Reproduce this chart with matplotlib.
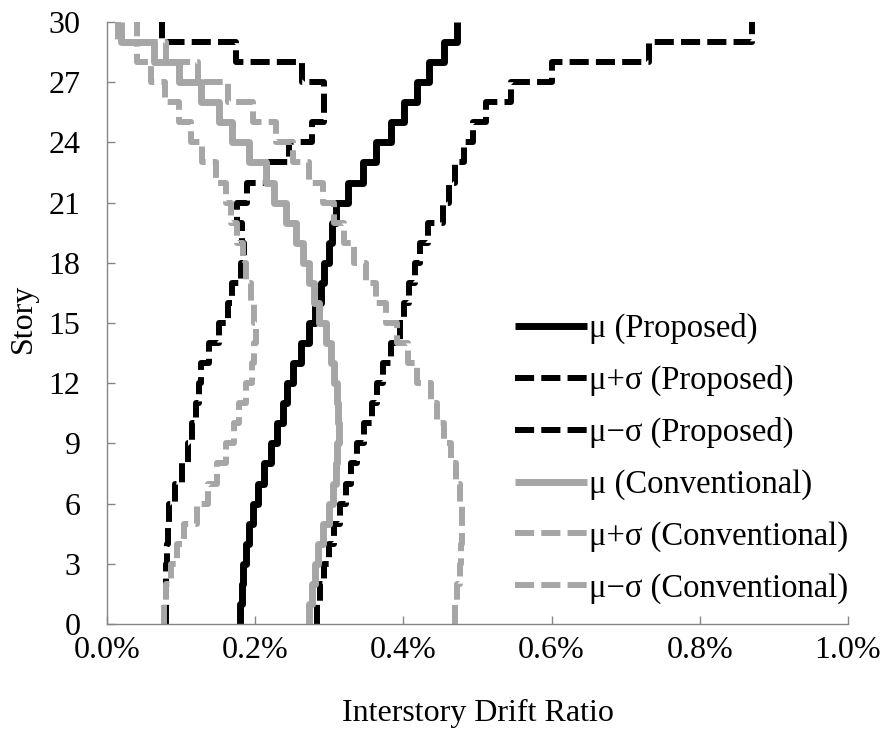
import numpy as np
import matplotlib
matplotlib.use("Agg")
import matplotlib.pyplot as plt
from matplotlib.ticker import FuncFormatter

# Story levels (segment i spans story i..i+1)
stories = np.arange(0, 31)

series_names = ["μ (Proposed)", "μ+σ (Proposed)", "μ−σ (Proposed)",
                "μ (Conventional)", "μ+σ (Conventional)", "μ−σ (Conventional)"]

# Interstory drift ratio (%) per story, bottom (story 1) to top (story 30)
mu_prop = [0.180, 0.182, 0.184, 0.187, 0.191, 0.197, 0.204, 0.212, 0.221, 0.230,
           0.237, 0.243, 0.251, 0.262, 0.273, 0.281, 0.289, 0.293, 0.299, 0.304,
           0.309, 0.325, 0.345, 0.363, 0.383, 0.401, 0.418, 0.435, 0.455, 0.473]
mu_plus_prop = [0.284, 0.287, 0.293, 0.299, 0.307, 0.314, 0.322, 0.329, 0.338, 0.347,
                0.358, 0.365, 0.372, 0.383, 0.395, 0.401, 0.408, 0.415, 0.422, 0.433,
                0.453, 0.462, 0.469, 0.482, 0.494, 0.511, 0.545, 0.601, 0.732, 0.870]
mu_minus_prop = [0.079, 0.079, 0.080, 0.081, 0.082, 0.084, 0.092, 0.101, 0.109, 0.115,
                 0.120, 0.124, 0.127, 0.138, 0.151, 0.163, 0.169, 0.181, 0.185, 0.182,
                 0.175, 0.189, 0.216, 0.246, 0.277, 0.293, 0.293, 0.263, 0.174, 0.074]
mu_conv = [0.273, 0.277, 0.281, 0.285, 0.291, 0.299, 0.305, 0.309, 0.311, 0.313,
           0.312, 0.310, 0.307, 0.302, 0.295, 0.286, 0.280, 0.273, 0.264, 0.255,
           0.242, 0.226, 0.215, 0.192, 0.169, 0.151, 0.127, 0.097, 0.064, 0.019]
mu_plus_conv = [0.469, 0.473, 0.476, 0.478, 0.479, 0.479, 0.477, 0.471, 0.464, 0.455,
                0.446, 0.437, 0.419, 0.406, 0.392, 0.377, 0.363, 0.350, 0.334, 0.320,
                0.307, 0.291, 0.273, 0.251, 0.228, 0.197, 0.163, 0.123, 0.080, 0.040]
mu_minus_conv = [0.077, 0.079, 0.086, 0.095, 0.104, 0.122, 0.136, 0.149, 0.160, 0.172,
                 0.178, 0.187, 0.196, 0.199, 0.201, 0.199, 0.194, 0.187, 0.183, 0.176,
                 0.168, 0.161, 0.147, 0.128, 0.114, 0.097, 0.078, 0.059, 0.040, 0.015]

x_ticks = [0.0, 0.2, 0.4, 0.6, 0.8, 1.0]
y_ticks = list(range(0, 31, 3))

plt.rcParams['font.family'] = ['Liberation Serif', 'DejaVu Serif']

BLACK = "#000000"
GRAY = "#A6A6A6"
AXC = "#868686"
FS = 23

fig = plt.figure(figsize=(8.87, 7.36), dpi=100)
ax = fig.add_axes([107/887, 112/736, (848-107)/887, (624-22)/736])


def steps(vals):
    v = np.asarray(vals)
    x = np.repeat(v, 2)
    y = np.column_stack([stories[:-1], stories[1:]]).ravel()
    return x, y

styles = [
    (mu_prop, BLACK, '-'),
    (mu_plus_prop, BLACK, '--'),
    (mu_minus_prop, BLACK, '--'),
    (mu_conv, GRAY, '-'),
    (mu_plus_conv, GRAY, '--'),
    (mu_minus_conv, GRAY, '--'),
]

for (vals, col, ls), name in zip(styles, series_names):
    x, y = steps(vals)
    if ls == '-':
        ax.plot(x, y, color=col, lw=5.0, solid_joinstyle='round',
                solid_capstyle='butt', label=name)
    else:
        ax.plot(x, y, color=col, lw=4.3, linestyle=(0, (3.2, 1.2)),
                dash_joinstyle='round', dash_capstyle='butt', label=name)

ax.set_xlim(0, 1.0)
ax.set_ylim(0, 30)
ax.set_xticks(x_ticks)
ax.set_yticks(y_ticks)
ax.xaxis.set_major_formatter(FuncFormatter(lambda v, p: f"{v:.1f}%"))

for s in ['top', 'right']:
    ax.spines[s].set_visible(False)
for s in ['left', 'bottom']:
    ax.spines[s].set_color(AXC)
    ax.spines[s].set_linewidth(1.0)

ax.tick_params(axis='both', direction='in', length=6, width=1.0, color=AXC,
               labelsize=FS, labelcolor='black')
ax.tick_params(axis='y', pad=19)
ax.tick_params(axis='x', pad=8.5)

ax.set_xlabel("Interstory Drift Ratio", fontsize=FS, va='center')
ax.xaxis.set_label_coords(0.5, (624-713)/602)
ax.set_ylabel("Story", fontsize=FS, va='center', ha='center')
ax.yaxis.set_label_coords((23-107)/741, (624-318)/602)

leg = fig.legend(loc='upper left', bbox_to_anchor=(515/887, 1 - 313/736),
                 frameon=False, fontsize=23.5, handlelength=2.2,
                 handletextpad=0.08, labelspacing=0.64, borderpad=0,
                 borderaxespad=0)

fig.savefig("out.png", dpi=100)
